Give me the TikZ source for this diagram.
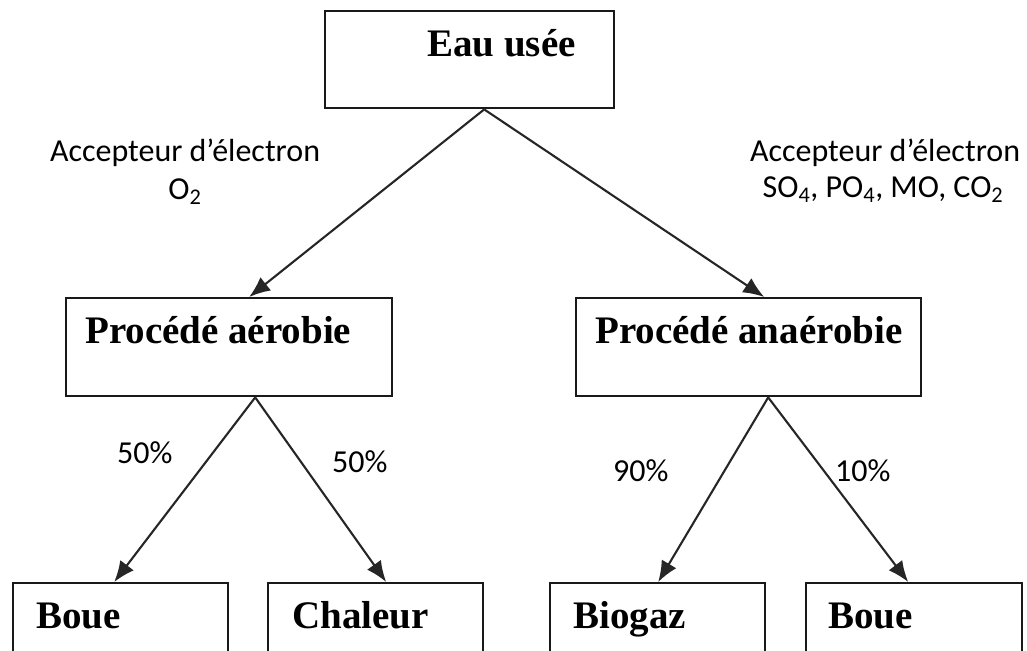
\documentclass[tikz,border=0pt]{standalone}
\usepackage{fontspec}
\setmainfont{Liberation Serif}
\newfontfamily\calib{Carlito}
\usetikzlibrary{arrows.meta}
\begin{document}
\begin{tikzpicture}[x=1pt,y=-1pt,
  box/.style={draw=black!90, line width=2.4pt, inner sep=0pt, anchor=north west},
  boxtext/.style={font=\fontsize{39}{40}\selectfont\bfseries, anchor=base west, inner sep=0pt},
  lbl/.style={font=\calib\fontsize{32}{37}\selectfont, inner sep=0pt},
  arr/.style={draw=black!85, line width=2.1pt, -{Latex[length=21pt,width=17pt]}}
]
\useasboundingbox (0,0) rectangle (1027,650);
\clip (0,0) rectangle (1027,650);
% boxes
\node[box, minimum width=289pt, minimum height=97pt] (top) at (324,10) {};
\node[box, minimum width=326pt, minimum height=98pt] (aer) at (65,297) {};
\node[box, minimum width=345pt, minimum height=98pt] (ana) at (575,297) {};
\node[box, minimum width=215pt, minimum height=100pt] (boue1) at (12,582) {};
\node[box, minimum width=215pt, minimum height=100pt] (chal) at (267,582) {};
\node[box, minimum width=215pt, minimum height=100pt] (biog) at (549,582) {};
\node[box, minimum width=216pt, minimum height=100pt] (boue2) at (805,582) {};
% box texts
\node[boxtext] (ttop) at (427,57) {Eau usée};
\node[boxtext] (taer) at (85,343) {Procédé aérobie};
\node[boxtext] (tana) at (595,343) {Procédé anaérobie};
\node[boxtext] (tboue1) at (36,628) {Boue};
\node[boxtext] (tchal) at (292,628) {Chaleur};
\node[boxtext] (tbiog) at (573,628) {Biogaz};
\node[boxtext] (tboue2) at (828,628) {Boue};
% arrows
\draw[arr] ([xshift=14.5pt]top.south) -- ([xshift=20pt]aer.north);
\draw[arr] ([xshift=14.5pt]top.south) -- ([xshift=15.5pt]ana.north);
\draw[arr] ([xshift=26pt]aer.south) -- ([xshift=-6.5pt]boue1.north);
\draw[arr] ([xshift=26pt]aer.south) -- ([xshift=10.5pt]chal.north);
\draw[arr] ([xshift=19.5pt]ana.south) -- ([xshift=0.5pt]biog.north);
\draw[arr] ([xshift=19.5pt]ana.south) -- ([xshift=-6pt]boue2.north);
% labels
\node[lbl, anchor=base] (accL1) at (185,161) {Accepteur d’électron};
\node[lbl, anchor=base] (accL2) at (185,199) {O\textsubscript{2}};
\node[lbl, anchor=base] (accR1) at (885,161) {Accepteur d’électron};
\node[lbl, anchor=base] (accR2) at (883,197) {SO\textsubscript{4}, PO\textsubscript{4}, MO, CO\textsubscript{2}};
\node[lbl, anchor=base west] (p1) at (117,463) {50\%};
\node[lbl, anchor=base west] (p2) at (332,472) {50\%};
\node[lbl, anchor=base west] (p3) at (613,481) {90\%};
\node[lbl, anchor=base west] (p4) at (835,481) {10\%};
\end{tikzpicture}
\end{document}
